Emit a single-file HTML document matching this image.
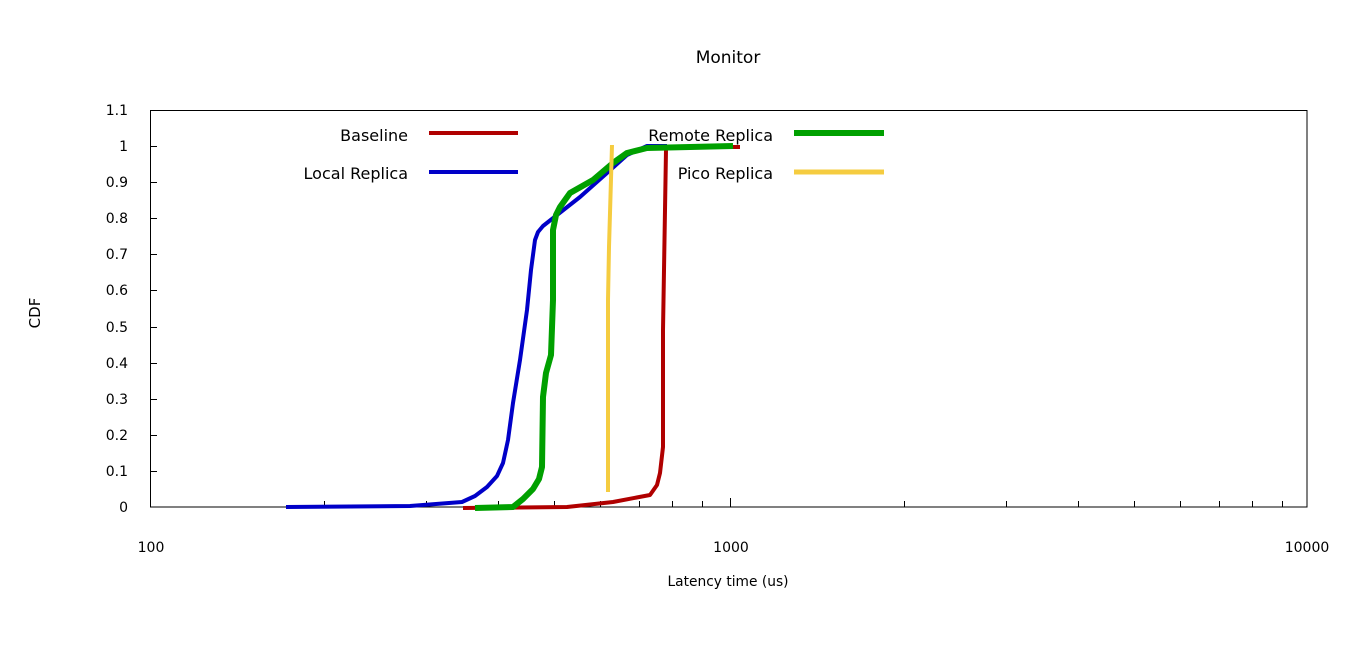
<!DOCTYPE html>
<html><head><meta charset="utf-8"><style>
html,body{margin:0;padding:0;background:#fff;}
svg{display:block;}
text{font-family:"DejaVu Sans","Liberation Sans",sans-serif;fill:#000;}
</style></head><body>
<svg width="1366" height="654" viewBox="0 0 1366 654" xmlns="http://www.w3.org/2000/svg">
<rect width="1366" height="654" fill="#fff"/>
<text x="728" y="63" font-size="17" text-anchor="middle">Monitor</text>
<rect x="150.5" y="110.5" width="1156.5" height="396.5" fill="none" stroke="#000" stroke-width="1"/>
<g stroke="#000" stroke-width="1">
<line x1="150" y1="471.5" x2="157" y2="471.5"/><line x1="150" y1="435.5" x2="157" y2="435.5"/>
<line x1="150" y1="399.5" x2="157" y2="399.5"/><line x1="150" y1="363.5" x2="157" y2="363.5"/>
<line x1="150" y1="327.5" x2="157" y2="327.5"/><line x1="150" y1="290.5" x2="157" y2="290.5"/>
<line x1="150" y1="254.5" x2="157" y2="254.5"/><line x1="150" y1="218.5" x2="157" y2="218.5"/>
<line x1="150" y1="182.5" x2="157" y2="182.5"/><line x1="150" y1="146.5" x2="157" y2="146.5"/>
<line x1="730.5" y1="507" x2="730.5" y2="498"/>
<line x1="324.5" y1="507" x2="324.5" y2="501"/><line x1="426.5" y1="507" x2="426.5" y2="501"/>
<line x1="498.5" y1="507" x2="498.5" y2="501"/><line x1="554.5" y1="507" x2="554.5" y2="501"/>
<line x1="600.5" y1="507" x2="600.5" y2="501"/><line x1="639.5" y1="507" x2="639.5" y2="501"/>
<line x1="672.5" y1="507" x2="672.5" y2="501"/><line x1="702.5" y1="507" x2="702.5" y2="501"/>
<line x1="904.5" y1="507" x2="904.5" y2="501"/><line x1="1006.5" y1="507" x2="1006.5" y2="501"/>
<line x1="1078.5" y1="507" x2="1078.5" y2="501"/><line x1="1134.5" y1="507" x2="1134.5" y2="501"/>
<line x1="1180.5" y1="507" x2="1180.5" y2="501"/><line x1="1219.5" y1="507" x2="1219.5" y2="501"/>
<line x1="1252.5" y1="507" x2="1252.5" y2="501"/><line x1="1282.5" y1="507" x2="1282.5" y2="501"/>
</g>
<g font-size="14" text-anchor="end">
<text x="128" y="512">0</text><text x="128" y="476">0.1</text><text x="128" y="440">0.2</text>
<text x="128" y="404">0.3</text><text x="128" y="368">0.4</text><text x="128" y="332">0.5</text>
<text x="128" y="295">0.6</text><text x="128" y="259">0.7</text><text x="128" y="223">0.8</text>
<text x="128" y="187">0.9</text><text x="128" y="151">1</text><text x="128" y="115">1.1</text>
</g>
<g font-size="14" text-anchor="middle">
<text x="151" y="552">100</text><text x="731" y="552">1000</text><text x="1307" y="552">10000</text>
</g>
<text x="728" y="586" font-size="14" text-anchor="middle" textLength="121" lengthAdjust="spacingAndGlyphs">Latency time (us)</text>
<text transform="translate(40,313) rotate(-90)" font-size="15" text-anchor="middle">CDF</text>
<g font-size="16" text-anchor="end">
<text x="408" y="141">Baseline</text><text x="408" y="179">Local Replica</text>
<text x="773" y="141">Remote Replica</text><text x="773" y="179">Pico Replica</text>
</g>
<g fill="none" stroke-linejoin="round" stroke-linecap="butt">
<line x1="429" y1="133" x2="518" y2="133" stroke="#b00000" stroke-width="4"/>
<line x1="429" y1="172" x2="518" y2="172" stroke="#0000c8" stroke-width="4"/>
<line x1="794" y1="133" x2="884" y2="133" stroke="#00a000" stroke-width="6"/>
<line x1="794" y1="172" x2="884" y2="172" stroke="#f5cc40" stroke-width="5"/>
<polyline stroke="#b00000" stroke-width="4" points="463,508 567,507 613,502 650,495 657,485 660,473 663,447 663,330 666,150 666,147 740,147"/>
<polyline stroke="#0000c8" stroke-width="4" points="286,507 410,506 462,502 475,496 487,487 497,476 503,463 508,440 513,403 520,360 527,310 531,270 535,240 538,232 543,226 557,215 580,197 607,173 627,155 647,146 667,146"/>
<polyline stroke="#00a000" stroke-width="6" points="475,508 513,507 523,499 533,489 539,479 542,467 543,397 546,373 551,355 553,300 553,230 556,215 560,207 570,193 593,180 613,163 627,153 647,148 733,146"/>
<polyline stroke="#f5cc40" stroke-width="4" points="608,492 608,300 609,247 612,145"/>
</g>
</svg>
</body></html>
